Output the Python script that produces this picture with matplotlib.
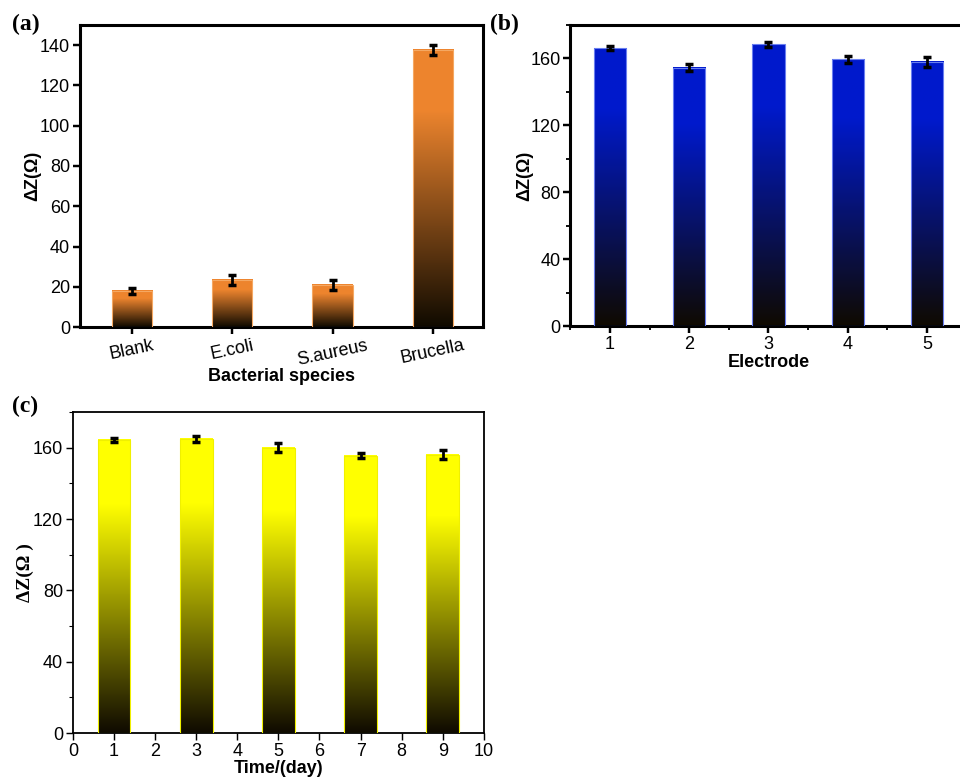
import numpy as np
import matplotlib
matplotlib.use('Agg')
import matplotlib.pyplot as plt
from matplotlib.colors import LinearSegmentedColormap
from matplotlib.ticker import MultipleLocator

plt.rcParams['font.family'] = ['Liberation Sans', 'DejaVu Sans']

# data
species = ['Blank', 'E.coli', 'S.aureus', 'Brucella']
species_dz = [18, 23.5, 21, 137.5]
species_err = [1.5, 2.5, 2.5, 2.5]

electrodes = [1, 2, 3, 4, 5]
electrode_dz = [166, 154.5, 168.5, 159.5, 158]
electrode_err = [1.2, 2.3, 1.5, 2.2, 3.0]

days = [1, 3, 5, 7, 9]
day_dz = [164.5, 165, 160, 155.5, 156]
day_err = [1.2, 1.8, 2.5, 1.3, 2.5]


def grad_cmap(top):
    return LinearSegmentedColormap.from_list(
        'g', [(0.0, (0.06, 0.04, 0.0)), (0.78, top), (1.0, top)])


def grad_bars(ax, xs, heights, width, top, edge):
    cmap = grad_cmap(top)
    grad = np.linspace(0, 1, 256).reshape(-1, 1)
    for x, h in zip(xs, heights):
        ax.imshow(grad, cmap=cmap, origin='lower', aspect='auto',
                  extent=(x - width / 2, x + width / 2, 0, h), zorder=2)
        ax.add_patch(plt.Rectangle((x - width / 2, 0), width, h, fill=False,
                                   edgecolor=edge, lw=0.8, zorder=3))


def err(ax, xs, ys, es, cap):
    ax.errorbar(xs, ys, yerr=es, fmt='none', ecolor='black', elinewidth=2,
                capsize=cap, capthick=2.5, zorder=4)


def frame(ax, lw):
    for s in ax.spines.values():
        s.set_linewidth(lw)
    ax.tick_params(direction='out', width=lw * 0.8, length=5, labelsize=13,
                   pad=2)
    ax.tick_params(which='minor', direction='out', width=lw * 0.6, length=3)


fig = plt.figure(figsize=(9.6, 7.79), dpi=100)

# (a)
ax1 = fig.add_axes([0.0833, 0.580, 0.4197, 0.388])
pos = np.arange(len(species))
grad_bars(ax1, pos, species_dz, 0.4, (0.93, 0.52, 0.18), '#f5a862')
err(ax1, pos, species_dz, species_err, 3)
ax1.set_xlim(-0.52, 3.5)
ax1.set_ylim(0, 150)
ax1.set_yticks(np.arange(0, 141, 20))
ax1.set_xticks(pos)
ax1.set_xticklabels(species, rotation=12)
ax1.set_xlabel('Bacterial species', fontsize=13, fontweight='bold', labelpad=0)
ax1.set_ylabel('ΔZ(Ω)', fontsize=13, fontweight='bold', labelpad=-1)
frame(ax1, 2.2)
fig.text(0.012, 0.968, '(a)', family='Liberation Serif', fontweight='bold',
         fontsize=17, va='center')

# (b)
ax2 = fig.add_axes([0.594, 0.5815, 0.413, 0.3865])
grad_bars(ax2, electrodes, electrode_dz, 0.41, (0.0, 0.10, 0.80), '#6a7ff0')
err(ax2, electrodes, electrode_dz, electrode_err, 3)
ax2.set_xlim(0.5, 5.5)
ax2.set_ylim(0, 180)
ax2.set_yticks([0, 40, 80, 120, 160])
ax2.yaxis.set_minor_locator(MultipleLocator(20))
ax2.set_xticks(electrodes)
ax2.xaxis.set_minor_locator(MultipleLocator(0.5))
ax2.set_xlabel('Electrode', fontsize=13, fontweight='bold', labelpad=1)
ax2.set_ylabel('ΔZ(Ω)', fontsize=13, fontweight='bold', labelpad=-2)
frame(ax2, 2.2)
fig.text(0.51, 0.968, '(b)', family='Liberation Serif', fontweight='bold',
         fontsize=17, va='center')

# (c)
ax3 = fig.add_axes([0.076, 0.059, 0.428, 0.412])
grad_bars(ax3, days, day_dz, 0.8, (1.0, 1.0, 0.0), '#f0f000')
err(ax3, days, day_dz, day_err, 3)
ax3.set_xlim(0, 10)
ax3.set_ylim(0, 180)
ax3.set_yticks([0, 40, 80, 120, 160])
ax3.yaxis.set_minor_locator(MultipleLocator(20))
ax3.set_xticks(range(0, 11))
ax3.set_xlabel('Time/(day)', fontsize=13, fontweight='bold', labelpad=0)
ax3.set_ylabel('ΔZ(Ω )', fontsize=14, family='Liberation Serif',
               fontweight='bold', labelpad=-1)
frame(ax3, 1.3)
fig.text(0.012, 0.478, '(c)', family='Liberation Serif', fontweight='bold',
         fontsize=17, va='center')

fig.savefig('out.png', dpi=100)
